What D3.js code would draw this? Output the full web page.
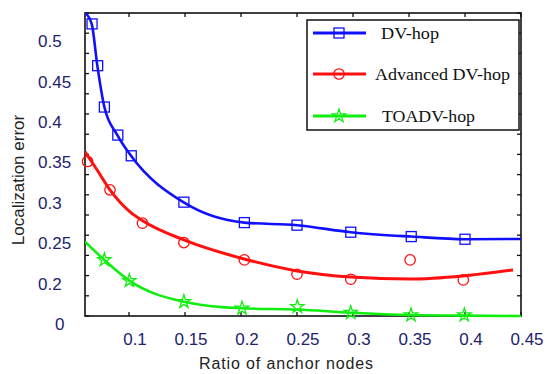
<!DOCTYPE html>
<html>
<head>
<meta charset="utf-8">
<script src="https://cdn.jsdelivr.net/npm/d3@7"></script>
<style>
  body { margin: 0; background: #fff; }
  svg { display: block; }
</style>
</head>
<body>
<svg width="550" height="374"></svg>
<script>
// ratio of anchor nodes -> localization error
var seriesNames = ["DV-hop", "Advanced DV-hop", "TOADV-hop"];

// fitted curves
var dvLineX = [0.0607, 0.0667, 0.0717, 0.078, 0.0896, 0.1018, 0.1485, 0.203, 0.25, 0.298, 0.352, 0.4, 0.45];
var dvLineY = [0.5255, 0.5115, 0.4598, 0.4086, 0.3739, 0.3483, 0.2909, 0.2656, 0.2624, 0.2537, 0.2483, 0.245, 0.2454];
var advLineX = [0.0607, 0.0714, 0.083, 0.1009, 0.1125, 0.149, 0.2027, 0.25, 0.2982, 0.351, 0.3982, 0.4429];
var advLineY = [0.3532, 0.331, 0.3061, 0.2789, 0.2677, 0.2442, 0.2206, 0.2058, 0.1983, 0.1958, 0.1996, 0.207];
var toaLineX = [0.0607, 0.078, 0.1003, 0.149, 0.2009, 0.2503, 0.298, 0.3518, 0.3994, 0.45];
var toaLineY = [0.2421, 0.2194, 0.1937, 0.1677, 0.1595, 0.158, 0.1541, 0.1512, 0.1505, 0.15];

// measured points (markers)
var dvX = [0.067, 0.072, 0.078, 0.09, 0.102, 0.149, 0.203, 0.25, 0.298, 0.352, 0.4];
var dvY = [0.5115, 0.4598, 0.4086, 0.3739, 0.3483, 0.2909, 0.2656, 0.2624, 0.2537, 0.2483, 0.245];
var advX = [0.063, 0.083, 0.112, 0.149, 0.203, 0.25, 0.298, 0.351, 0.3985];
var advY = [0.3412, 0.3061, 0.2649, 0.2408, 0.2194, 0.2017, 0.1955, 0.2194, 0.1946];
var toaX = [0.078, 0.1003, 0.149, 0.2009, 0.2503, 0.298, 0.3518, 0.3994];
var toaY = [0.2194, 0.1937, 0.1677, 0.1595, 0.1615, 0.1541, 0.1512, 0.1512];

var xTicks = [0.1, 0.15, 0.2, 0.25, 0.3, 0.35, 0.4, 0.45];
var yMinorTicks = d3.range(0.15, 0.526, 0.025);
var yLabelTicks = [0.15, 0.2, 0.25, 0.3, 0.35, 0.4, 0.45, 0.5];
var yLabelText = ["0", "0.2", "0.25", "0.3", "0.35", "0.4", "0.45", "0.5"];

var svg = d3.select("svg");

var x = d3.scaleLinear().domain([0.0607, 0.45]).range([85, 521]),
    y = d3.scaleLinear().domain([0.15, 0.525]).range([316, 13]);

var tickColor = "#22226e";

// frame ticks (inward, all four sides)
var frame = svg.append("g").attr("stroke", "#111").attr("stroke-width", 1.3);
xTicks.forEach(function (t) {
    frame.append("line").attr("x1", x(t)).attr("x2", x(t)).attr("y1", y.range()[0]).attr("y2", y.range()[0] - 4);
    frame.append("line").attr("x1", x(t)).attr("x2", x(t)).attr("y1", y.range()[1]).attr("y2", y.range()[1] + 4);
});
yMinorTicks.forEach(function (t) {
    frame.append("line").attr("x1", x.range()[0]).attr("x2", x.range()[0] + 4).attr("y1", y(t)).attr("y2", y(t));
    frame.append("line").attr("x1", x.range()[1]).attr("x2", x.range()[1] - 4).attr("y1", y(t)).attr("y2", y(t));
});

svg.append("rect")
    .attr("x", x.range()[0]).attr("y", y.range()[1])
    .attr("width", x.range()[1] - x.range()[0])
    .attr("height", y.range()[0] - y.range()[1])
    .attr("fill", "none").attr("stroke", "#111").attr("stroke-width", 1.6);

// tick labels
svg.append("g").selectAll("text")
    .data(xTicks)
    .enter().append("text")
    .attr("x", function (d) { return x(d) + 6; })
    .attr("y", 345)
    .attr("text-anchor", "middle")
    .attr("font-family", "Liberation Sans, Arial, sans-serif")
    .attr("font-size", "17px")
    .attr("fill", tickColor)
    .text(function (d) { return d; });

svg.append("g").selectAll("text")
    .data(yLabelTicks)
    .enter().append("text")
    .attr("x", function (d, i) { return i === 0 ? 55 : 38; })
    .attr("y", function (d) { return y(d) + 14; })
    .attr("font-family", "Liberation Sans, Arial, sans-serif")
    .attr("font-size", "17px")
    .attr("fill", tickColor)
    .text(function (d, i) { return yLabelText[i]; });

// axis titles
svg.append("text")
    .attr("x", 199).attr("y", 369)
    .attr("font-family", "Liberation Sans, Arial, sans-serif")
    .attr("font-size", "16px")
    .attr("textLength", 174)
    .attr("fill", "#222")
    .text("Ratio of anchor nodes");

svg.append("text")
    .attr("transform", "translate(24,180) rotate(-90)")
    .attr("text-anchor", "middle")
    .attr("font-family", "Liberation Sans, Arial, sans-serif")
    .attr("font-size", "17px")
    .attr("fill", "#222")
    .text("Localization error");

// lines
var line = d3.line()
    .x(function (d) { return x(d[0]); })
    .y(function (d) { return y(d[1]); })
    .curve(d3.curveMonotoneX);

var colors = ["#1010ff", "#ff1010", "#10ee10"];
var lineSets = [d3.zip(dvLineX, dvLineY), d3.zip(advLineX, advLineY), d3.zip(toaLineX, toaLineY)];
var pointSets = [d3.zip(dvX, dvY), d3.zip(advX, advY), d3.zip(toaX, toaY)];
var widths = [2.6, 3, 2.6];

svg.append("clipPath").attr("id", "plot")
    .append("rect")
    .attr("x", x.range()[0]).attr("y", y.range()[1])
    .attr("width", x.range()[1] - x.range()[0])
    .attr("height", y.range()[0] - y.range()[1] + 2);

var plot = svg.append("g").attr("clip-path", "url(#plot)");

lineSets.forEach(function (pts, i) {
    plot.append("path")
        .attr("d", line(pts))
        .attr("fill", "none")
        .attr("stroke", colors[i])
        .attr("stroke-width", widths[i]);
});

function drawMarker(g, kind, cx, cy, color) {
    if (kind === 0) {
        g.append("rect")
            .attr("x", cx - 5).attr("y", cy - 5)
            .attr("width", 10).attr("height", 10)
            .attr("fill", "none").attr("stroke", color).attr("stroke-width", 1.3);
    } else if (kind === 1) {
        g.append("circle")
            .attr("cx", cx).attr("cy", cy).attr("r", 5.2)
            .attr("fill", "none").attr("stroke", color).attr("stroke-width", 1.3);
    } else {
        g.append("path")
            .attr("transform", "translate(" + cx + "," + cy + ")")
            .attr("d", d3.symbol().type(d3.symbolStar).size(55)())
            .attr("fill", "none").attr("stroke", color).attr("stroke-width", 1.3);
    }
}

var markers = svg.append("g");
pointSets.forEach(function (pts, i) {
    pts.forEach(function (p) {
        drawMarker(markers, i, x(p[0]), y(p[1]), colors[i]);
    });
});

// legend
var legend = svg.append("g");
legend.append("rect")
    .attr("x", 307).attr("y", 20)
    .attr("width", 212).attr("height", 110)
    .attr("fill", "#fff").attr("stroke", "#111").attr("stroke-width", 1.5);

var legendY = [33, 74, 116],
    legendTextX = [381, 375, 382],
    legendTextW = [58, 135, 93];

seriesNames.forEach(function (name, i) {
    legend.append("line")
        .attr("x1", 313).attr("x2", 366)
        .attr("y1", legendY[i]).attr("y2", legendY[i])
        .attr("stroke", colors[i]).attr("stroke-width", 3);
    drawMarker(legend, i, 339, legendY[i], colors[i]);
    legend.append("text")
        .attr("x", legendTextX[i]).attr("y", legendY[i] + 6)
        .attr("font-family", "Liberation Serif, Times New Roman, serif")
        .attr("font-size", "16px")
        .attr("textLength", legendTextW[i])
        .attr("lengthAdjust", "spacingAndGlyphs")
        .attr("fill", "#111")
        .text(name);
});
</script>
</body>
</html>
